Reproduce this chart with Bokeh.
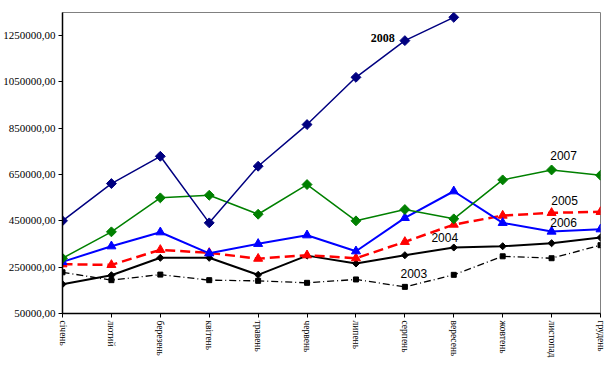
import math
from bokeh.plotting import figure
from bokeh.models import Range1d, FixedTicker
from bokeh.core.properties import value
from bokeh.embed import file_html
from bokeh.resources import INLINE

months = ["січень", "лютий", "березень", "квітень", "травень", "червень",
          "липень", "серпень", "вересень", "жовтень", "листопад", "грудень"]
y_ticks = [50000, 250000, 450000, 650000, 850000, 1050000, 1250000]

s2003 = [228000, 194000, 218000, 194000, 191000, 182500, 197000, 165000, 217000, 297000, 288700, 345000]
s2004 = [176500, 215000, 290500, 290500, 217000, 300000, 266000, 301700, 335000, 340500, 353500, 378000]
s2005 = [262800, 260000, 325000, 312000, 287000, 301700, 288700, 359500, 434000, 473000, 484700, 489000]
s2006 = [273000, 340500, 401000, 310000, 351000, 388000, 319000, 463000, 578000, 441500, 404000, 414000]
s2007 = [288700, 402700, 549500, 560700, 478700, 606900, 450200, 499000, 458800, 627000, 670000, 647000]
s2008 = [450200, 611200, 729000, 441500, 686000, 866000, 1070000, 1228500, 1329000]

x = list(range(len(months)))

p = figure(frame_width=538, frame_height=301, output_backend="svg", toolbar_location=None,
           x_range=Range1d(0, 11), y_range=Range1d(50000, 1350000),
           min_border_left=54, min_border_right=5, min_border_top=12, min_border_bottom=46)
p.background_fill_color = "white"
p.border_fill_color = "white"
p.outline_line_color = "#808080"
p.outline_line_width = 1
p.xgrid.visible = False
p.ygrid.visible = False

serif = "Liberation Serif"
sans = "Liberation Sans"

p.xaxis.ticker = FixedTicker(ticks=x)
p.xaxis.major_label_overrides = {i: m for i, m in enumerate(months)}
p.xaxis.major_label_orientation = "vertical"
p.yaxis.ticker = FixedTicker(ticks=y_ticks)
p.yaxis.major_label_overrides = {t: f"{t},00" for t in y_ticks}
for ax in (p.xaxis[0], p.yaxis[0]):
    ax.axis_line_color = "black"
    ax.axis_line_width = 1.5
    ax.major_tick_line_color = "black"
    ax.major_tick_line_width = 1
    ax.major_tick_out = 4
    ax.major_tick_in = 0
    ax.minor_tick_line_color = None
    ax.major_label_text_font = serif
    ax.major_label_text_color = "black"
p.yaxis.major_label_text_font_size = "11px"
p.xaxis.major_label_text_font_size = "9.5px"
p.yaxis.major_label_standoff = 3
p.xaxis.major_label_standoff = 3

rot = math.pi / 4
# 2003
p.line(x, s2003, line_color="black", line_width=1.3, line_dash="7 3 1 3")
p.scatter(x, s2003, marker="square", size=5, color="black")
# 2004
p.line(x, s2004, line_color="black", line_width=2)
p.scatter(x, s2004, marker="square", angle=rot, size=5, color="black")
# 2005
p.line(x, s2005, line_color="#FF0000", line_width=2.5, line_dash="10 5")
p.scatter(x, s2005, marker="triangle", size=9, color="#FF0000")
# 2006
p.line(x, s2006, line_color="#0000FF", line_width=2)
p.scatter(x, s2006, marker="triangle", size=9, color="#0000FF")
# 2007
p.line(x, s2007, line_color="#008000", line_width=1.5)
p.scatter(x, s2007, marker="square", angle=rot, size=7, color="#008000")
# 2008
x08 = x[:len(s2008)]
p.line(x08, s2008, line_color="#000080", line_width=1.5)
p.scatter(x08, s2008, marker="square", angle=rot, size=7, color="#000080")

# labels anchored to data points with pixel offsets
labels = [
    ("2008", x[7], s2008[7], -22, -3, serif, "bold"),
    ("2007", x[10], s2007[10], 12, -14, sans, "normal"),
    ("2005", x[10], s2005[10], 13, -12, sans, "normal"),
    ("2006", x[10], s2006[10], 12, -9, sans, "normal"),
    ("2004", x[8], s2004[8], -9, -10, sans, "normal"),
    ("2003", x[7], s2003[7], 9, -13, sans, "normal"),
]
for t, lx, ly, dx, dy, f, st in labels:
    p.text(x=[lx], y=[ly], text=[t], x_offset=dx, y_offset=dy,
           text_font=value(f), text_font_style=st, text_font_size="12px",
           text_color="black", text_align="center", text_baseline="middle")

open("out.html", "w").write(file_html(p, INLINE))
